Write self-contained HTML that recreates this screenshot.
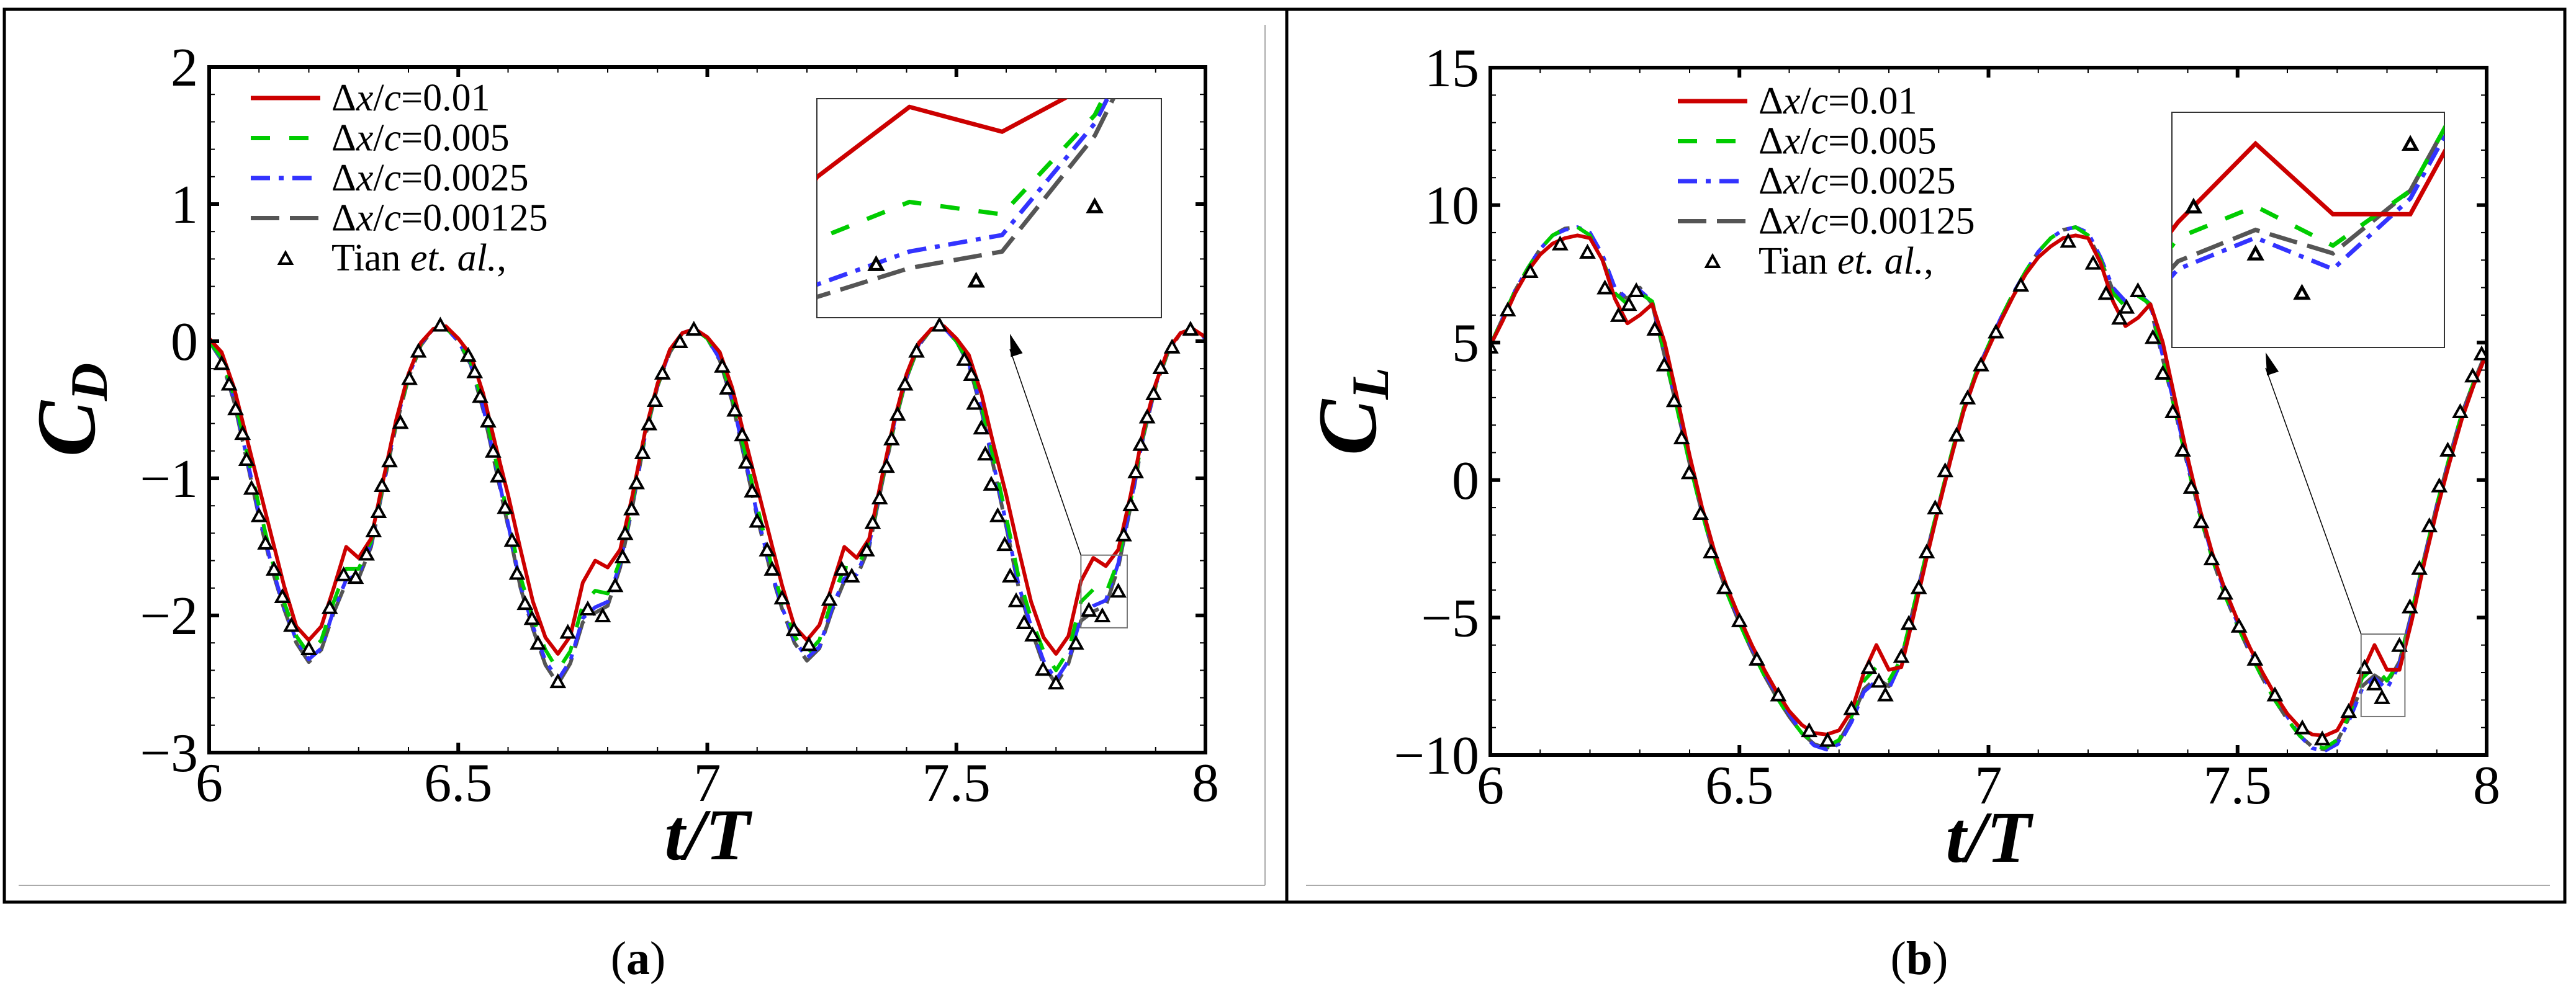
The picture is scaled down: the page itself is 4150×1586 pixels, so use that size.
<!DOCTYPE html>
<html><head><meta charset="utf-8"><style>
html,body{margin:0;padding:0;background:#fff;}
svg{display:block;}
text{font-family:"Liberation Serif","DejaVu Serif",serif;}
</style></head><body>
<svg id="fig" width="4150" height="1586" viewBox="0 0 4150 1586" xmlns="http://www.w3.org/2000/svg">
<rect x="7" y="15" width="2066" height="1439" fill="none" stroke="#000" stroke-width="5"/>
<rect x="2073" y="15" width="2059" height="1439" fill="none" stroke="#000" stroke-width="5"/>
<line x1="30" y1="1427" x2="2038" y2="1427" stroke="#aaa" stroke-width="2"/>
<line x1="2038" y1="40" x2="2038" y2="1427" stroke="#aaa" stroke-width="2"/>
<line x1="2104" y1="1427" x2="4108" y2="1427" stroke="#aaa" stroke-width="2"/>
<text x="1028" y="1570" font-size="76" text-anchor="middle">(<tspan font-weight="bold">a</tspan>)</text>
<text x="3092" y="1570" font-size="76" text-anchor="middle">(<tspan font-weight="bold">b</tspan>)</text>
<g id="pa"></g>
<g id="pb"></g>
</svg>
<script>
const tTicks=[6,6.5,7,7.5,8];
const tLabels=["6","6.5","7","7.5","8"];
const cdTicks=[-3,-2,-1,0,1,2];
const cdLabels=["\u22123","\u22122","\u22121","0","1","2"];
const clTicks=[-10,-5,0,5,10,15];
const clLabels=["\u221210","\u22125","0","5","10","15"];
const tStart=6, tStep=0.025;
const cdGray=[0.00,-0.14,-0.44,-0.86,-1.28,-1.65,-1.95,-2.20,-2.34,-2.25,-1.98,-1.76,-1.73,-1.50,-1.05,-0.62,-0.27,-0.03,0.09,0.10,0.00,-0.17,-0.50,-0.92,-1.35,-1.80,-2.10,-2.36,-2.50,-2.35,-2.05,-1.98,-1.93,-1.65,-1.20,-0.70,-0.33,-0.08,0.06,0.09,0.02,-0.14,-0.44,-0.86,-1.28,-1.65,-1.95,-2.20,-2.33,-2.24,-1.97,-1.75,-1.72,-1.50,-1.05,-0.62,-0.27,-0.03,0.09,0.10,0.00,-0.17,-0.50,-0.92,-1.35,-1.80,-2.10,-2.36,-2.50,-2.35,-2.04,-1.97,-1.93,-1.65,-1.20,-0.70,-0.33,-0.08,0.06,0.09,0.02];
const cdBlue=[0.00,-0.13,-0.42,-0.84,-1.26,-1.63,-1.94,-2.18,-2.32,-2.24,-1.96,-1.74,-1.70,-1.48,-1.03,-0.60,-0.26,-0.02,0.09,0.10,0.00,-0.16,-0.48,-0.90,-1.33,-1.78,-2.08,-2.33,-2.47,-2.33,-2.02,-1.94,-1.90,-1.62,-1.18,-0.69,-0.32,-0.07,0.06,0.09,0.02,-0.13,-0.42,-0.84,-1.26,-1.63,-1.94,-2.18,-2.31,-2.23,-1.95,-1.73,-1.70,-1.48,-1.03,-0.60,-0.26,-0.02,0.09,0.10,0.00,-0.16,-0.48,-0.90,-1.33,-1.78,-2.08,-2.33,-2.47,-2.33,-2.01,-1.93,-1.89,-1.62,-1.18,-0.69,-0.32,-0.07,0.06,0.09,0.02];
const cdGreen=[0.00,-0.12,-0.40,-0.80,-1.20,-1.58,-1.90,-2.15,-2.28,-2.18,-1.90,-1.66,-1.66,-1.46,-1.02,-0.60,-0.26,-0.02,0.09,0.10,0.00,-0.15,-0.46,-0.86,-1.28,-1.72,-2.02,-2.25,-2.40,-2.26,-1.92,-1.82,-1.84,-1.60,-1.16,-0.68,-0.32,-0.07,0.06,0.09,0.02,-0.12,-0.40,-0.80,-1.20,-1.58,-1.90,-2.15,-2.28,-2.18,-1.89,-1.65,-1.66,-1.46,-1.02,-0.60,-0.26,-0.02,0.09,0.10,0.00,-0.15,-0.46,-0.86,-1.28,-1.72,-2.02,-2.26,-2.40,-2.26,-1.90,-1.81,-1.84,-1.60,-1.16,-0.68,-0.32,-0.07,0.06,0.09,0.02];
const cdRed=[0.02,-0.08,-0.34,-0.70,-1.06,-1.42,-1.78,-2.08,-2.18,-2.08,-1.80,-1.50,-1.58,-1.44,-1.00,-0.58,-0.24,-0.01,0.09,0.11,0.02,-0.10,-0.38,-0.76,-1.12,-1.52,-1.90,-2.16,-2.28,-2.15,-1.76,-1.60,-1.65,-1.52,-1.12,-0.66,-0.31,-0.06,0.06,0.09,0.03,-0.08,-0.34,-0.70,-1.06,-1.42,-1.78,-2.08,-2.18,-2.07,-1.79,-1.50,-1.58,-1.44,-1.00,-0.58,-0.24,-0.01,0.09,0.11,0.02,-0.10,-0.38,-0.76,-1.12,-1.52,-1.90,-2.16,-2.28,-2.15,-1.75,-1.58,-1.64,-1.52,-1.12,-0.66,-0.31,-0.06,0.06,0.09,0.03];
const cdTianT=[6.025,6.04,6.053,6.067,6.075,6.085,6.1,6.113,6.13,6.147,6.165,6.2,6.242,6.27,6.294,6.316,6.33,6.34,6.347,6.362,6.384,6.402,6.42,6.464,6.52,6.533,6.544,6.56,6.57,6.58,6.594,6.608,6.618,6.634,6.648,6.66,6.70,6.72,6.76,6.79,6.815,6.83,6.835,6.848,6.858,6.87,6.883,6.895,6.91,6.945,6.973,7.03,7.04,7.055,7.07,7.078,7.09,7.1,7.12,7.13,7.15,7.174,7.204,7.245,7.27,7.29,7.32,7.332,7.346,7.36,7.37,7.382,7.397,7.42,7.466,7.516,7.53,7.536,7.55,7.558,7.57,7.583,7.597,7.608,7.62,7.636,7.653,7.674,7.7,7.74,7.766,7.793,7.825,7.836,7.85,7.86,7.87,7.883,7.896,7.91,7.933,7.97];
const cdTianV=[-0.16,-0.31,-0.49,-0.67,-0.86,-1.07,-1.27,-1.47,-1.66,-1.86,-2.07,-2.24,-1.94,-1.70,-1.72,-1.55,-1.38,-1.24,-1.05,-0.87,-0.59,-0.27,-0.07,0.12,-0.10,-0.22,-0.40,-0.58,-0.80,-0.98,-1.21,-1.45,-1.69,-1.91,-2.02,-2.20,-2.48,-2.12,-1.95,-2.00,-1.78,-1.57,-1.40,-1.22,-1.03,-0.81,-0.60,-0.43,-0.23,0.00,0.09,-0.18,-0.34,-0.50,-0.68,-0.88,-1.09,-1.31,-1.52,-1.66,-1.87,-2.10,-2.21,-1.88,-1.66,-1.71,-1.52,-1.32,-1.14,-0.91,-0.71,-0.53,-0.31,-0.07,0.12,-0.13,-0.24,-0.45,-0.63,-0.82,-1.04,-1.27,-1.48,-1.71,-1.89,-2.05,-2.14,-2.39,-2.49,-2.20,-1.96,-2.00,-1.82,-1.41,-1.19,-0.95,-0.75,-0.55,-0.38,-0.19,-0.04,0.09];
const clGray=[4.9,5.9,6.9,7.7,8.4,8.9,9.15,9.2,8.9,8.0,6.9,6.6,7.0,6.4,4.5,2.6,0.6,-1.2,-2.8,-4.1,-5.2,-6.2,-7.1,-7.9,-8.6,-9.2,-9.6,-9.75,-9.5,-8.7,-7.6,-7.2,-7.5,-6.5,-4.6,-2.7,-0.9,0.9,2.6,3.9,4.9,5.9,6.8,7.6,8.3,8.8,9.1,9.2,8.9,8.0,6.9,6.5,6.9,6.3,4.4,2.5,0.5,-1.3,-2.9,-4.2,-5.3,-6.3,-7.2,-8.0,-8.7,-9.3,-9.7,-9.8,-9.5,-8.6,-7.5,-7.1,-7.4,-6.6,-4.8,-2.8,-0.9,0.8,2.4,3.6,4.7];
const clBlue=[4.9,5.9,6.9,7.7,8.4,8.9,9.1,9.2,9.0,8.2,7.0,6.6,6.9,6.5,4.6,2.7,0.7,-1.1,-2.7,-4.0,-5.1,-6.1,-7.0,-7.8,-8.5,-9.2,-9.65,-9.8,-9.6,-8.8,-7.7,-7.3,-7.6,-6.6,-4.7,-2.8,-1.0,0.8,2.5,3.8,4.9,5.9,6.8,7.6,8.3,8.8,9.1,9.2,9.0,8.1,7.0,6.5,6.8,6.4,4.5,2.6,0.6,-1.2,-2.8,-4.1,-5.2,-6.2,-7.1,-7.9,-8.6,-9.3,-9.75,-9.85,-9.6,-8.7,-7.6,-7.2,-7.6,-6.7,-4.9,-2.9,-1.0,0.7,2.3,3.5,4.6];
const clGreen=[4.9,5.9,6.9,7.7,8.4,8.9,9.15,9.2,8.9,8.0,6.8,6.4,6.8,6.5,4.6,2.6,0.6,-1.2,-2.8,-4.1,-5.2,-6.2,-7.1,-7.9,-8.6,-9.2,-9.55,-9.7,-9.45,-8.6,-7.3,-6.8,-7.3,-6.5,-4.6,-2.7,-0.9,0.9,2.6,3.9,4.9,5.9,6.8,7.6,8.3,8.8,9.1,9.2,8.9,8.0,6.8,6.3,6.7,6.4,4.5,2.5,0.5,-1.3,-2.9,-4.2,-5.3,-6.3,-7.2,-8.0,-8.7,-9.3,-9.65,-9.75,-9.45,-8.5,-7.2,-6.8,-7.3,-6.6,-4.8,-2.8,-0.9,0.8,2.4,3.6,4.7];
const clRed=[4.9,5.8,6.8,7.6,8.2,8.6,8.8,8.9,8.8,8.0,6.6,5.7,6.0,6.4,5.0,3.0,0.9,-1.0,-2.6,-3.9,-5.0,-6.0,-6.9,-7.7,-8.4,-8.9,-9.2,-9.25,-9.1,-8.4,-7.0,-6.0,-6.9,-6.8,-4.9,-2.9,-1.0,0.8,2.5,3.8,4.8,5.8,6.7,7.5,8.1,8.5,8.8,8.9,8.8,7.9,6.5,5.6,5.9,6.4,5.0,2.9,0.8,-1.1,-2.7,-4.0,-5.1,-6.1,-7.0,-7.8,-8.5,-9.0,-9.25,-9.3,-9.1,-8.3,-7.0,-6.0,-6.9,-6.9,-5.1,-3.0,-1.1,0.6,2.2,3.5,4.6];
const clTianT=[6.0,6.035,6.08,6.14,6.195,6.23,6.257,6.278,6.293,6.33,6.349,6.369,6.384,6.399,6.422,6.443,6.47,6.5,6.535,6.578,6.64,6.677,6.725,6.76,6.78,6.793,6.825,6.84,6.86,6.876,6.893,6.913,6.936,6.958,6.985,7.015,7.065,7.16,7.21,7.236,7.263,7.277,7.30,7.33,7.35,7.37,7.39,7.407,7.427,7.448,7.475,7.503,7.535,7.575,7.63,7.67,7.723,7.755,7.775,7.79,7.825,7.846,7.865,7.885,7.905,7.922,7.947,7.972,7.99];
const clTianV=[4.85,6.2,7.6,8.6,8.3,7.0,6.0,6.4,6.9,5.5,4.2,2.9,1.55,0.28,-1.2,-2.6,-3.9,-5.1,-6.5,-7.8,-9.1,-9.45,-8.3,-6.8,-7.3,-7.8,-6.4,-5.2,-3.9,-2.6,-1.0,0.35,1.65,3.0,4.2,5.4,7.1,8.7,7.9,6.8,5.9,6.3,6.9,5.2,3.9,2.5,1.1,-0.25,-1.5,-2.85,-4.1,-5.3,-6.5,-7.8,-9.0,-9.4,-8.4,-6.8,-7.4,-7.9,-6.0,-4.6,-3.2,-1.65,-0.2,1.1,2.5,3.8,4.6];
const legendLabels=["0.01","0.005","0.0025","0.00125"];

const NS="http://www.w3.org/2000/svg";
function mk(tag,attrs,parent){const e=document.createElementNS(NS,tag);for(const k in attrs)e.setAttribute(k,attrs[k]);parent.appendChild(e);return e;}
const styles=[
 {c:"#cc0000",d:"none"},
 {c:"#00cc00",d:"31 31"},
 {c:"#3333ff",d:"31 14 8 14"},
 {c:"#555555",d:"46 17"}];
const names=["series-dx-0.01","series-dx-0.005","series-dx-0.0025","series-dx-0.00125"];

function panel(g,cfg){
 const X=t=>cfg.x0+(t-6)/2*(cfg.x1-cfg.x0);
 const Y=v=>cfg.y1-(v-cfg.vmin)/(cfg.vmax-cfg.vmin)*(cfg.y1-cfg.y0);
 const series=cfg.series;
 const cid="clip"+cfg.id;
 const defs=mk("defs",{},g);
 const cp=mk("clipPath",{id:cid},defs);
 mk("rect",{x:cfg.x0,y:cfg.y0,width:cfg.x1-cfg.x0,height:cfg.y1-cfg.y0},cp);
 const icid="iclip"+cfg.id;
 const icp=mk("clipPath",{id:icid},defs);
 mk("rect",{x:cfg.ix0,y:cfg.iy0,width:cfg.ix1-cfg.ix0,height:cfg.iy1-cfg.iy0},icp);
 const plot=mk("g",{"clip-path":"url(#"+cid+")"},g);
 
 
 for(let s=3;s>=0;s--){
  const arr=series[s];let d="";
  arr.forEach((v,i)=>{d+=(i?"L":"M")+X(tStart+i*tStep).toFixed(1)+" "+Y(v).toFixed(1);});
  const p=mk("path",{d:d,fill:"none",stroke:styles[s].c,"stroke-width":6,"stroke-dasharray":styles[s].d,"stroke-linejoin":"round"},plot);
  
  
 }
 cfg.tt.forEach((t,i)=>{const x=X(t),y=Y(cfg.tv[i]);
  const m=mk("polygon",{points:`${x-10},${y+9} ${x+10},${y+9} ${x},${y-9}`,fill:"#fff",stroke:"#000","stroke-width":4},plot);
  
  });
 const fr=mk("rect",{x:cfg.x0,y:cfg.y0,width:cfg.x1-cfg.x0,height:cfg.y1-cfg.y0,fill:"none",stroke:"#000","stroke-width":6},g);
 
 
 for(let k=0;k<=20;k++){const t=6+k*0.1;const x=X(t);const L=(k%5==0)?16:9;
  mk("line",{x1:x,y1:cfg.y1,x2:x,y2:cfg.y1-L,stroke:"#000","stroke-width":(k%5==0)?6:2},g);
  mk("line",{x1:x,y1:cfg.y0,x2:x,y2:cfg.y0+L,stroke:"#000","stroke-width":(k%5==0)?6:2},g);}
 const nMin=Math.round((cfg.vmax-cfg.vmin)/cfg.minor);
 const per=Math.round(cfg.major/cfg.minor);
 for(let k=0;k<=nMin;k++){const v=cfg.vmin+k*cfg.minor;const y=Y(v);const mj=k%per==0;const L=mj?16:9;
  mk("line",{x1:cfg.x0,y1:y,x2:cfg.x0+L,y2:y,stroke:"#000","stroke-width":mj?6:2},g);
  mk("line",{x1:cfg.x1,y1:y,x2:cfg.x1-L,y2:y,stroke:"#000","stroke-width":mj?6:2},g);}
 tTicks.forEach((t,i)=>{const e=mk("text",{x:X(t),y:cfg.y1+78,"font-size":88,"text-anchor":"middle"},g);e.textContent=tLabels[i];
  
  });
 cfg.yt.forEach((v,i)=>{const e=mk("text",{x:cfg.x0-18,y:Y(v)+30,"font-size":88,"text-anchor":"end"},g);e.textContent=cfg.yl[i];
  
  });
 const xt=mk("text",{x:(cfg.x0+cfg.x1)/2,y:cfg.y1+172,"font-size":118,"font-weight":"bold","font-style":"italic","text-anchor":"middle"},g);
 xt.textContent="t/T";
 
 
 const yt=mk("text",{transform:`translate(${cfg.x0-185},${(cfg.y0+cfg.y1)/2}) rotate(-90)`,"font-size":135,"font-weight":"bold","font-style":"italic","text-anchor":"middle"},g);
 yt.innerHTML='C<tspan font-size="85" dy="20">'+cfg.sub+'</tspan>';
 
 
 for(let s=0;s<5;s++){const y=cfg.ly+s*64.5;
  const lg=mk("g",{},g);
  
  
  if(s<4)mk("line",{x1:cfg.lx,y1:y,x2:cfg.lx+112,y2:y,stroke:styles[s].c,"stroke-width":7,"stroke-dasharray":styles[s].d},lg);
  else{const x=cfg.lx+56;mk("polygon",{points:`${x-10},${y+9} ${x+10},${y+9} ${x},${y-9}`,fill:"#fff",stroke:"#000","stroke-width":4},lg);}
  const tx=mk("text",{x:cfg.lx+130,y:y+20,"font-size":62},lg);
  if(s<4)tx.innerHTML='\u0394<tspan font-style="italic">x</tspan>/<tspan font-style="italic">c</tspan>='+legendLabels[s];
  else tx.innerHTML='Tian <tspan font-style="italic">et. al.</tspan>,';}
 const zr=mk("rect",{x:X(cfg.zt0),y:Y(cfg.zv1),width:X(cfg.zt1)-X(cfg.zt0),height:Y(cfg.zv0)-Y(cfg.zv1),fill:"none",stroke:"#777","stroke-width":2},g);
 
 
 const ax=X(cfg.zt0),ay=Y(cfg.zv1),bx=cfg.ahx,by=cfg.ahy;
 mk("line",{x1:ax,y1:ay,x2:bx,y2:by+25,stroke:"#000","stroke-width":1.5},g);
 const ang=Math.atan2(by-ay,bx-ax);
 const hx=bx,hy=by;const l=36,w=10;
 const p1x=hx-l*Math.cos(ang)+w*Math.sin(ang),p1y=hy-l*Math.sin(ang)-w*Math.cos(ang);
 const p2x=hx-l*Math.cos(ang)-w*Math.sin(ang),p2y=hy-l*Math.sin(ang)+w*Math.cos(ang);
 const ah=mk("polygon",{points:`${hx},${hy} ${p1x},${p1y} ${p2x},${p2y}`,fill:"#000"},g);
 
 
 const IX=t=>cfg.ix0+(t-cfg.zt0)/(cfg.zt1-cfg.zt0)*(cfg.ix1-cfg.ix0);
 const IY=v=>cfg.iy1-(v-cfg.zv0)/(cfg.zv1-cfg.zv0)*(cfg.iy1-cfg.iy0);
 const ib=mk("rect",{x:cfg.ix0,y:cfg.iy0,width:cfg.ix1-cfg.ix0,height:cfg.iy1-cfg.iy0,fill:"#fff",stroke:"#333","stroke-width":2},g);
 
 
 const ig=mk("g",{"clip-path":"url(#"+icid+")"},g);
 
 
 for(let s=3;s>=0;s--){let d="";series[s].forEach((v,i)=>{d+=(i?"L":"M")+IX(tStart+i*tStep).toFixed(1)+" "+IY(v).toFixed(1);});
  const p=mk("path",{d:d,fill:"none",stroke:styles[s].c,"stroke-width":7,"stroke-dasharray":styles[s].d},ig);
  
  }
 cfg.tt.forEach((t,i)=>{const x=IX(t),y=IY(cfg.tv[i]);
  const m=mk("polygon",{points:`${x-10},${y+9} ${x+10},${y+9} ${x},${y-9}`,fill:"#fff",stroke:"#000","stroke-width":5},ig);
  
  });
}
panel(document.getElementById('pa'),{id:"a",x0:337,x1:1942,y0:108,y1:1213,vmin:-3,vmax:2,major:1,minor:0.2,yt:cdTicks,yl:cdLabels,sub:"D",
 series:[cdRed,cdGreen,cdBlue,cdGray],tt:cdTianT,tv:cdTianV,lx:404,ly:158,
 zt0:7.75,zt1:7.843,zv0:-2.09,zv1:-1.56,ix0:1316,ix1:1871,iy0:159,iy1:512,ahx:1627,ahy:538});
panel(document.getElementById('pb'),{id:"b",x0:2401,x1:4006,y0:109,y1:1217,vmin:-10,vmax:15,major:5,minor:1,yt:clTicks,yl:clLabels,sub:"L",
 series:[clRed,clGreen,clBlue,clGray],tt:clTianT,tv:clTianV,lx:2703,ly:163,
 zt0:7.748,zt1:7.836,zv0:-8.6,zv1:-5.6,ix0:3499,ix1:3938,iy0:181,iy1:560,ahx:3650,ahy:568});
</script>
</body></html>
